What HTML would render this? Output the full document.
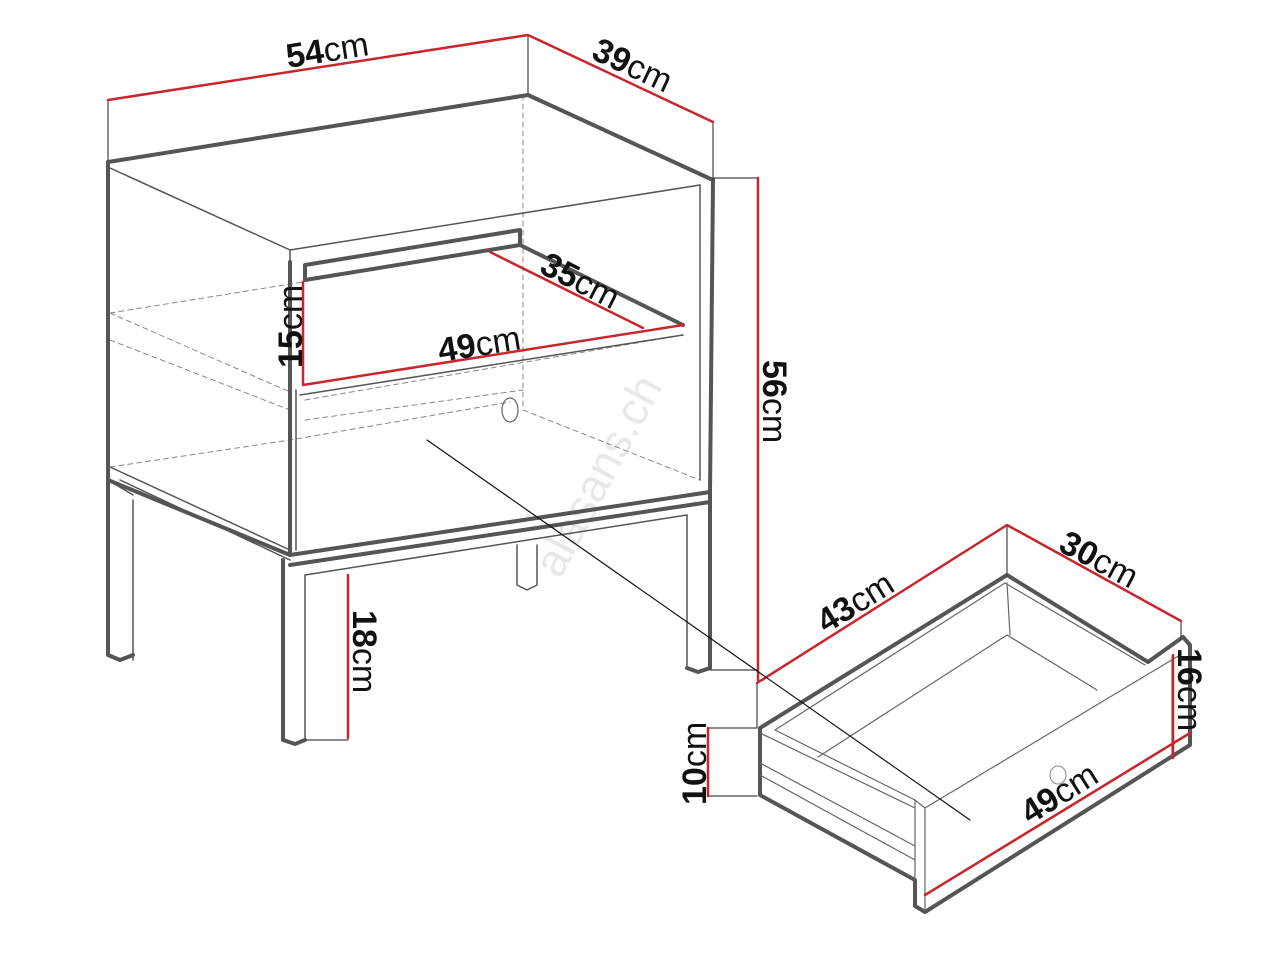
<!DOCTYPE html>
<html><head><style>
html,body{margin:0;padding:0;background:#fff;width:1280px;height:960px;overflow:hidden}
svg text{font-family:"Liberation Sans",sans-serif;font-size:34px;fill:#111}
.b{font-weight:bold}
</style></head><body>
<svg width="1280" height="960" viewBox="0 0 1280 960" xmlns="http://www.w3.org/2000/svg">
<g fill="none" stroke-linejoin="round" stroke-linecap="round">
<text x="560" y="580" transform="rotate(-62 560 580)" style="font-size:46px;fill:#e8e8e8">alasans.ch</text>
<g stroke="#888" stroke-width="1" stroke-dasharray="5,4">
<path d="M523 95 L523 410"/>
<path d="M110 313 L303 282"/><path d="M110 313 L290 392"/>
<path d="M110 340 L290 410"/>
<path d="M305 400 L683 335"/>
<path d="M110 467 L290 440 L510 402"/>
<path d="M523 410 L700 480"/>
<path d="M305 420 L523 390"/>
</g>
<g stroke="#555" stroke-width="1.5">
<path d="M110 168 L290 250 L700 185"/>
<path d="M290 250 L290 262"/>
<path d="M700 185 L700 480"/>
<path d="M110 467 L290 550"/>
<path d="M296 390 L296 550"/>
<path d="M120 480 L290 560"/>
<path d="M133 500 L133 660"/>
<path d="M108 480 L133 495"/>
<path d="M305 575 L305 740"/>
<path d="M305 575 L687 515"/>
<path d="M687 515 L687 668"/>
<path d="M517 545 L517 585 L527 590 L537 585 L537 545"/>
<path d="M300 395 L683 335"/>
</g>
<g stroke="#555" stroke-width="4">
<path d="M108 162 L528 95 L713 180"/>
<path d="M108 162 L108 480"/>
<path d="M713 180 L710 492"/>
<path d="M290 262 L290 555"/>
<path d="M108 480 L290 555 L710 492"/>
<path d="M290 565 L710 502"/>
<path d="M108 480 L108 655 L120 660 L133 655"/>
<path d="M283 560 L283 740 L295 744 L305 740"/>
<path d="M710 492 L710 668 L698 672 L687 668"/>
<path d="M305 265 L520 230 L520 245 L305 280 Z"/>
<path d="M520 245 L683 325"/>
<path d="M760 728 L1007 575 L1148 662 L1183 637 L1190 645 L1190 745 L925 912 L915 906 L915 880 L760 795 Z"/>
</g>
<g stroke="#666" stroke-width="1.2">
<path d="M775 730 L1005 583 L1145 665"/>
<path d="M1007 583 L1010 635"/>
<path d="M818 757 L1007 635 L1097 690"/>
<path d="M760 733 L915 808"/>
<path d="M775 730 L915 800"/>
<path d="M760 763 L915 846"/>
<path d="M760 775 L915 860"/>
<path d="M915 800 L925 808 L1180 655"/>
<path d="M925 808 L925 910"/>
<path d="M915 800 L915 880"/>
<path d="M1172 657 L1172 755"/>
</g>
<g stroke="#444" stroke-width="1.2">
<path d="M108 100 L108 160"/><path d="M528 35 L528 93"/>
<path d="M713 122 L713 180"/>
<path d="M713 178 L758 178"/>
<path d="M305 740 L348 740"/>
<path d="M1007 525 L1007 575"/><path d="M1181 621 L1181 640"/>
<path d="M708 728 L757 728"/><path d="M708 796 L757 796"/>
<path d="M757 683 L757 728"/>
<path d="M710 670 L758 670"/>
</g>
<g stroke="#c8262c" stroke-width="2.5">
<path d="M108 100 L528 35 L713 122"/>
<path d="M758 178 L758 680"/>
<path d="M303 282 L303 385 L683 325"/>
<path d="M490 252 L643 328"/>
<path d="M348 575 L348 738"/>
<path d="M757 683 L1007 525 L1181 621"/>
<path d="M708 728 L708 796"/>
<path d="M1173 655 L1173 758"/>
<path d="M925 895 L1190 733"/>
</g>
<path d="M427 440 L970 820" stroke="#111" stroke-width="1.2"/>
<ellipse cx="510" cy="410" rx="8" ry="12" stroke="#666" stroke-width="1.2"/>
<ellipse cx="1058" cy="775" rx="8" ry="9" stroke="#888" stroke-width="1"/>
</g>
<text x="288" y="68" transform="rotate(-9 288 68)"><tspan class="b">54</tspan>cm</text>
<text x="590" y="58" transform="rotate(25 590 58)"><tspan class="b">39</tspan>cm</text>
<text x="538" y="272" transform="rotate(27 538 272)"><tspan class="b">35</tspan>cm</text>
<text x="302" y="368" transform="rotate(-90 302 368)"><tspan class="b">15</tspan>cm</text>
<text x="440" y="362" transform="rotate(-9 440 362)"><tspan class="b">49</tspan>cm</text>
<text x="763" y="360" transform="rotate(90 763 360)"><tspan class="b">56</tspan>cm</text>
<text x="353" y="610" transform="rotate(90 353 610)"><tspan class="b">18</tspan>cm</text>
<text x="826" y="634" transform="rotate(-32 826 634)"><tspan class="b">43</tspan>cm</text>
<text x="1057" y="550" transform="rotate(28 1057 550)"><tspan class="b">30</tspan>cm</text>
<text x="1178" y="648" transform="rotate(90 1178 648)"><tspan class="b">16</tspan>cm</text>
<text x="706" y="805" transform="rotate(-90 706 805)"><tspan class="b">10</tspan>cm</text>
<text x="1030" y="825" transform="rotate(-32 1030 825)"><tspan class="b">49</tspan>cm</text>
</svg>
</body></html>
